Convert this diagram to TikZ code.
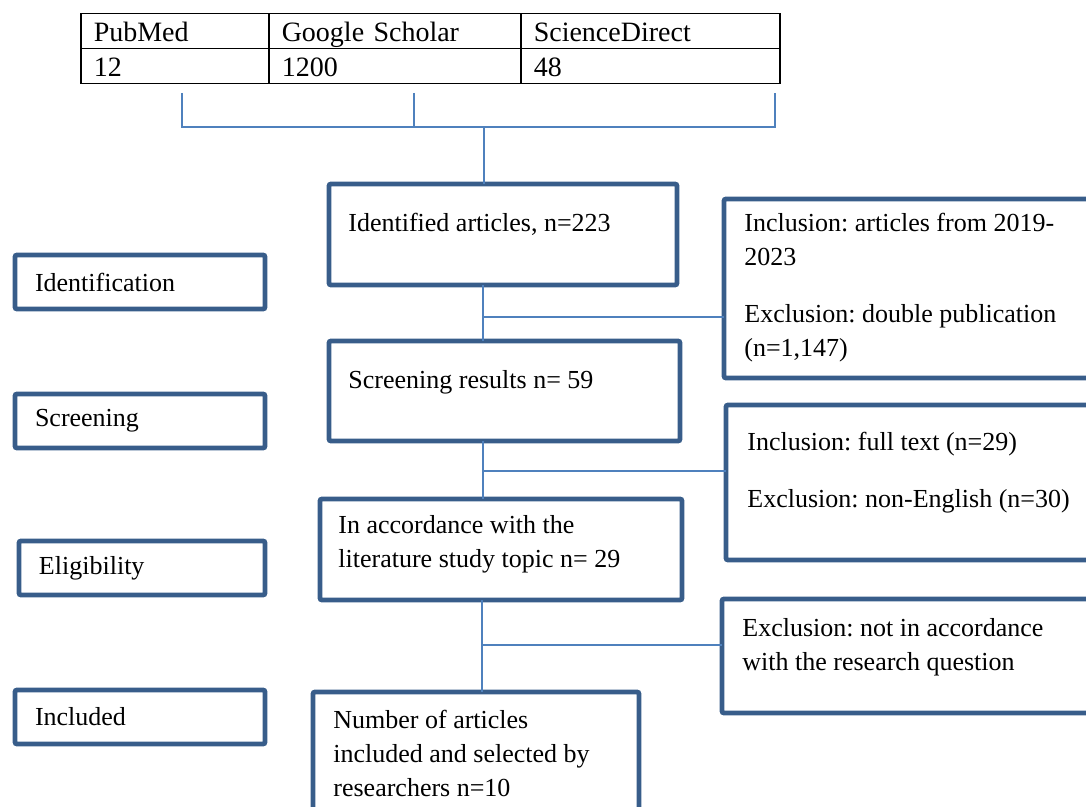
\documentclass[tikz,border=0pt]{standalone}
\usepackage{fontspec}
\setmainfont{Liberation Serif}
\frenchspacing
\definecolor{boxblue}{RGB}{56,93,138}
\definecolor{linkblue}{RGB}{79,129,189}
\begin{document}
\begin{tikzpicture}[x=0.5pt,y=-0.5pt,
    flowbox/.style={draw=boxblue,line width=2.4pt,rounded corners=1pt,anchor=north west,inner sep=0pt,outer sep=0pt},
    boxtext/.style={anchor=north west,inner sep=0pt,align=left,font=\fontsize{13}{17}\selectfont},
    stagebox/.style={flowbox,minimum height=27pt,inner xsep=10pt,inner ysep=0pt,text width=105pt,align=left,font=\fontsize{13}{17}\selectfont},
    cell/.style={draw=black,line width=0.75pt,anchor=north west,inner xsep=6.5pt,inner ysep=0pt,text height=14pt,text depth=3.5pt,align=left,font=\fontsize{14}{17}\selectfont},
    link/.style={draw=linkblue,line width=1pt}]
  \clip (0,0) rectangle (1086,807);
  \node[cell,text width=81pt] (pubmed) at (80,13) {PubMed};
  \node[cell,text width=113pt] (scholar) at (268,13) {Google Scholar};
  \node[cell,text width=116.5pt] (direct) at (520,13) {ScienceDirect};
  \node[cell,text width=81pt] (npubmed) at (80,48) {12};
  \node[cell,text width=113pt] (nscholar) at (268,48) {1200};
  \node[cell,text width=116.5pt] (ndirect) at (520,48) {48};
  \node[stagebox] (ident) at (15,255) {Identification};
  \node[stagebox] (screen) at (15,394) {Screening};
  \node[stagebox,text width=103pt] (elig) at (19,541) {Eligibility};
  \node[stagebox] (incl) at (15,690) {Included};
  \node[flowbox,minimum width=174pt,minimum height=50.5pt] (found) at (329,184) {};
  \node[flowbox,minimum width=175.5pt,minimum height=50pt] (screened) at (329,341) {};
  \node[flowbox,minimum width=181pt,minimum height=50.5pt] (topic) at (320,499) {};
  \node[flowbox,minimum width=163pt,minimum height=69pt] (final) at (313,692) {};
  \node[flowbox,minimum width=200pt,minimum height=89.5pt] (crit1) at (724,199) {};
  \node[flowbox,minimum width=200pt,minimum height=77.5pt] (crit2) at (726,405) {};
  \node[flowbox,minimum width=200pt,minimum height=57pt] (crit3) at (722,599) {};
  \node[boxtext] (foundtxt) at ([shift={(19,29)}]found.north west) {Identified articles, n=223};
  \node[boxtext] (screenedtxt) at ([shift={(19,29)}]screened.north west) {Screening results n= 59};
  \node[boxtext] (topictxt) at ([shift={(18,16)}]topic.north west) {In accordance with the\\literature study topic n= 29};
  \node[boxtext] (finaltxt) at ([shift={(20,18)}]final.north west) {Number of articles\\included and selected by\\researchers n=10};
  \node[boxtext] (crit1txt) at ([shift={(20,14)}]crit1.north west) {Inclusion: articles from 2019-\\2023\\[11.5pt]Exclusion: double publication\\(n=1,147)};
  \node[boxtext] (crit2txt) at ([shift={(21,27)}]crit2.north west) {Inclusion: full text (n=29)\\[11.5pt]Exclusion: non-English (n=30)};
  \node[boxtext] (crit3txt) at ([shift={(20,19)}]crit3.north west) {Exclusion: not in accordance\\with the research question};
  \coordinate (tpm) at (182,93);
  \coordinate (tgs) at (414,93);
  \coordinate (tsd) at (775,93);
  \coordinate (hub) at (484,127);
  \coordinate (j1) at (483,317);
  \coordinate (j2) at (483,471);
  \coordinate (j3) at (482,645);
  \draw[link] (tpm) -- (tpm |- hub) -- (tsd |- hub) -- (tsd);
  \draw[link] (tgs) -- (tgs |- hub);
  \draw[link] (hub) -- (hub |- found.north);
  \draw[link] (j1 |- found.south) -- (j1 |- screened.north);
  \draw[link] (j1) -- (j1 -| crit1.west);
  \draw[link] (j2 |- screened.south) -- (j2 |- topic.north);
  \draw[link] (j2) -- (j2 -| crit2.west);
  \draw[link] (j3 |- topic.south) -- (j3 |- final.north);
  \draw[link] (j3) -- (j3 -| crit3.west);
\end{tikzpicture}
\end{document}
